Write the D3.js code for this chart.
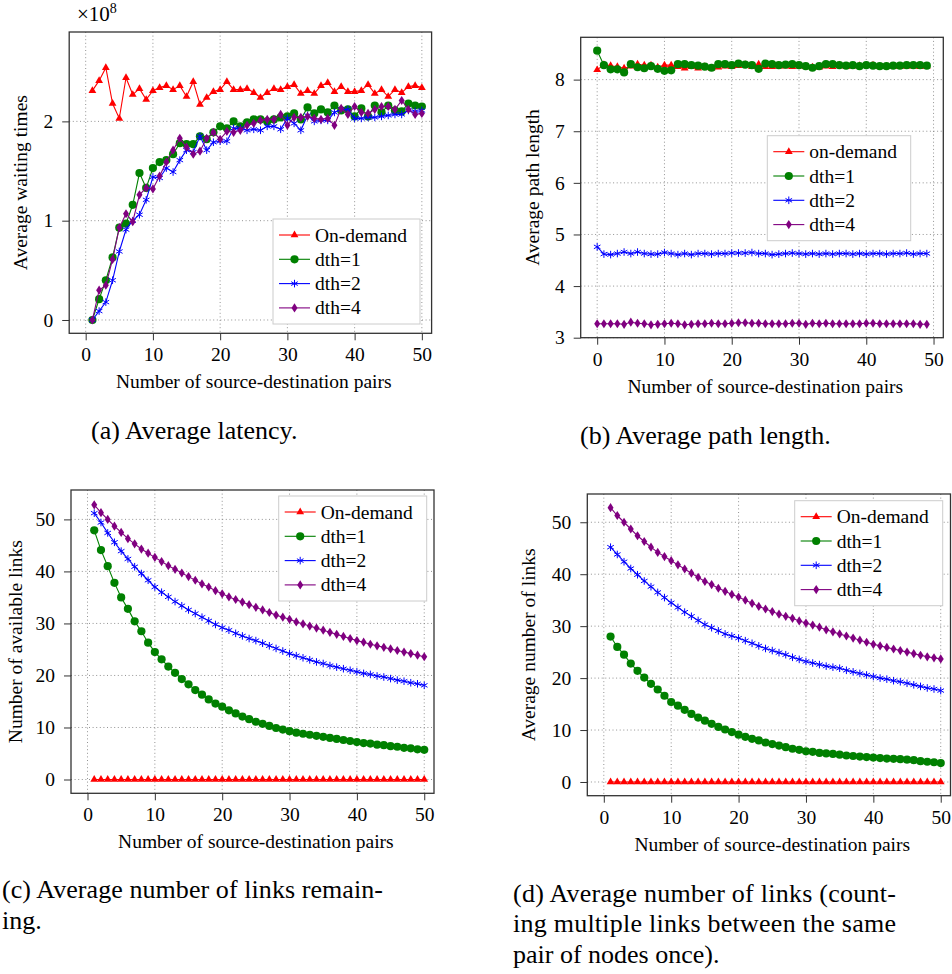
<!DOCTYPE html>
<html>
<head>
<meta charset="utf-8">
<script src="https://cdn.jsdelivr.net/npm/d3@7"></script>
<style>
  body { margin: 0; background: #fff; }
  svg text { font-family: "Liberation Serif", "Times New Roman", serif; fill: #000; }
</style>
</head>
<body>
<svg id="fig" width="952" height="974"></svg>
<script>
// x values
const pairs = d3.range(1, 51);        // 1..50 (panels a, c, d)
const pairsB = d3.range(0, 50);       // 0..49 (panel b)
const xTicks = [0, 10, 20, 30, 40, 50];

// (a) average waiting times, in units of 1e8
const waitOnDemand = [2.31,2.41,2.54,2.18,2.03,2.44,2.27,2.33,2.22,2.31,2.34,2.36,2.32,2.36,2.25,2.40,2.17,2.24,2.30,2.32,2.40,2.32,2.32,2.33,2.29,2.24,2.29,2.33,2.32,2.35,2.37,2.28,2.31,2.28,2.36,2.39,2.30,2.35,2.30,2.30,2.31,2.37,2.28,2.32,2.25,2.32,2.29,2.35,2.36,2.34];
const waitDth1 = [0.00,0.21,0.40,0.63,0.93,0.97,1.16,1.48,1.33,1.53,1.59,1.61,1.67,1.78,1.77,1.77,1.85,1.82,1.89,1.95,1.93,2.00,1.95,1.99,2.02,2.02,2.00,2.02,2.04,2.05,2.08,2.02,2.14,2.08,2.12,2.09,2.16,2.11,2.12,2.05,2.13,2.05,2.16,2.09,2.16,2.11,2.10,2.18,2.16,2.15];
const waitDth2 = [0.00,0.09,0.18,0.40,0.69,0.91,1.00,1.06,1.21,1.44,1.43,1.53,1.49,1.61,1.71,1.69,1.85,1.71,1.79,1.80,1.80,1.93,1.93,1.91,1.92,1.91,1.95,1.95,1.92,2.03,1.98,1.91,2.06,2.00,2.01,2.01,2.09,2.12,2.12,2.03,2.03,2.04,2.04,2.05,2.06,2.07,2.07,2.11,2.10,2.11];
const waitDth4 = [0.00,0.30,0.35,0.61,0.93,1.07,0.99,1.26,1.33,1.32,1.45,1.59,1.71,1.83,1.74,1.67,1.70,1.83,1.89,1.82,1.90,1.89,1.91,1.96,1.98,2.01,2.02,2.02,2.07,1.96,2.04,2.04,2.05,2.03,2.02,2.03,1.96,2.13,2.07,2.15,2.09,2.08,2.12,2.15,2.15,2.12,2.21,2.12,2.07,2.08];

// (b) average path length
const pathOnDemand = [8.19,8.29,8.27,8.25,8.22,8.26,8.30,8.28,8.28,8.24,8.28,8.28,8.25,8.22,8.25,8.22,8.25,8.22,8.24,8.26,8.25,8.27,8.29,8.25,8.30,8.25,8.25,8.26,8.26,8.25,8.26,8.25,8.24,8.24,8.26,8.25,8.28,8.25,8.26,8.27,8.27,8.28,8.25,8.25,8.26,8.25,8.26,8.26,8.25,8.26];
const pathDth1 = [8.56,8.28,8.20,8.20,8.14,8.30,8.24,8.22,8.26,8.21,8.17,8.18,8.30,8.30,8.28,8.27,8.25,8.23,8.30,8.30,8.28,8.31,8.29,8.28,8.21,8.31,8.30,8.28,8.29,8.30,8.28,8.26,8.23,8.26,8.30,8.30,8.28,8.27,8.28,8.26,8.28,8.27,8.26,8.26,8.27,8.27,8.28,8.28,8.28,8.27];
const pathDth2 = [4.76,4.62,4.61,4.63,4.66,4.63,4.66,4.63,4.62,4.62,4.65,4.63,4.61,4.63,4.61,4.63,4.63,4.62,4.63,4.63,4.64,4.64,4.64,4.65,4.63,4.63,4.61,4.62,4.63,4.64,4.63,4.62,4.63,4.62,4.63,4.62,4.63,4.63,4.62,4.63,4.62,4.63,4.63,4.62,4.63,4.63,4.64,4.62,4.63,4.63];
const pathDth4 = [3.27,3.27,3.27,3.27,3.26,3.30,3.28,3.27,3.25,3.26,3.27,3.28,3.27,3.25,3.26,3.27,3.27,3.28,3.27,3.27,3.28,3.29,3.29,3.28,3.28,3.27,3.27,3.27,3.27,3.28,3.28,3.26,3.28,3.27,3.28,3.27,3.27,3.27,3.27,3.27,3.28,3.28,3.27,3.27,3.27,3.27,3.27,3.27,3.26,3.26];

// (c) number of available links
const availOnDemand = [0,0,0,0,0,0,0,0,0,0,0,0,0,0,0,0,0,0,0,0,0,0,0,0,0,0,0,0,0,0,0,0,0,0,0,0,0,0,0,0,0,0,0,0,0,0,0,0,0,0];
const availDth1 = [47.9,44.1,41.0,37.8,35.0,32.8,30.4,28.5,26.3,24.5,23.1,21.7,20.5,19.3,18.3,17.2,16.3,15.4,14.6,14.0,13.3,12.7,12.1,11.6,11.1,10.7,10.3,9.9,9.6,9.3,9.0,8.8,8.6,8.4,8.2,8.0,7.8,7.6,7.4,7.2,7.0,6.9,6.7,6.6,6.4,6.3,6.1,6.0,5.8,5.7];
const availDth2 = [51.2,49.4,47.4,45.6,43.9,42.4,40.9,39.6,38.3,37.0,36.0,35.1,34.2,33.4,32.6,31.9,31.2,30.5,29.8,29.2,28.7,28.1,27.6,27.1,26.7,26.2,25.7,25.2,24.7,24.2,23.8,23.4,23.0,22.6,22.3,21.9,21.6,21.3,21.0,20.7,20.4,20.2,19.9,19.7,19.4,19.1,18.9,18.6,18.4,18.1];
const availDth4 = [52.8,51.3,50.0,48.7,47.5,46.3,45.3,44.3,43.5,42.7,41.9,41.1,40.4,39.7,39.0,38.3,37.6,37.0,36.3,35.7,35.1,34.6,34.1,33.6,33.1,32.6,32.1,31.6,31.2,30.8,30.3,29.9,29.5,29.1,28.7,28.3,27.9,27.5,27.1,26.7,26.4,26.0,25.7,25.4,25.1,24.8,24.5,24.2,23.9,23.6];

// (d) average number of links
const linksOnDemand = [0,0,0,0,0,0,0,0,0,0,0,0,0,0,0,0,0,0,0,0,0,0,0,0,0,0,0,0,0,0,0,0,0,0,0,0,0,0,0,0,0,0,0,0,0,0,0,0,0,0];
const linksDth1 = [28.0,26.0,24.5,22.8,21.4,20.1,18.9,17.8,16.6,15.4,14.7,13.9,13.1,12.4,11.8,11.2,10.6,10.1,9.6,9.1,8.7,8.3,8.0,7.6,7.3,7.0,6.7,6.4,6.2,5.9,5.8,5.6,5.5,5.4,5.25,5.1,5.0,4.9,4.8,4.7,4.6,4.5,4.45,4.4,4.3,4.2,4.0,3.9,3.8,3.65];
const linksDth2 = [45.2,43.8,42.4,41.1,39.9,38.7,37.6,36.5,35.5,34.5,33.6,32.7,31.9,31.1,30.3,29.7,29.1,28.5,28.1,27.7,27.2,26.7,26.2,25.7,25.3,24.9,24.5,24.0,23.6,23.2,22.9,22.6,22.3,22.1,21.9,21.5,21.2,20.9,20.6,20.3,20.0,19.8,19.5,19.3,19.0,18.7,18.4,18.1,17.9,17.6];
const linksDth4 = [52.8,51.3,50.0,48.7,47.4,46.3,45.2,44.2,43.4,42.6,41.8,41.0,40.2,39.4,38.6,38.0,37.3,36.7,36.1,35.6,35.0,34.4,33.8,33.3,32.8,32.3,31.9,31.5,31.0,30.6,30.2,29.8,29.3,28.9,28.5,28.1,27.7,27.3,26.9,26.5,26.2,25.9,25.6,25.3,25.0,24.7,24.4,24.1,23.9,23.7];

const seriesNames = ["On-demand", "dth=1", "dth=2", "dth=4"];
const seriesNamesB = ["on-demand", "dth=1", "dth=2", "dth=4"];
const colors = ["#ff0000", "#008000", "#0000ff", "#800080"];
const markers = ["triangle", "circle", "asterisk", "diamond"];

const svg = d3.select("#fig");
const FS = 19.5;

function drawMarker(sel, type, color) {
  if (type === "circle") {
    sel.append("circle").attr("r", 4.1).attr("fill", color);
  } else if (type === "triangle") {
    sel.append("path").attr("d", "M0,-4.4L3.9,2.3L-3.9,2.3Z").attr("fill", color);
  } else if (type === "diamond") {
    sel.append("path").attr("d", "M0,-4.6L3,0L0,4.6L-3,0Z").attr("fill", color);
  } else {
    sel.append("path")
      .attr("d", "M0,-3.8L0,3.8M-3.3,-1.9L3.3,1.9M-3.3,1.9L3.3,-1.9")
      .attr("stroke", color).attr("stroke-width", 1).attr("fill", "none");
  }
}

function drawPanel(p) {
  const x = d3.scaleLinear().domain([-2.45, 51.45]).range([p.left, p.right]);
  const y = d3.scaleLinear().domain(p.yDomain).range([p.bottom, p.top]);
  const g = svg.append("g");

  // grid
  g.append("g").selectAll("line").data(xTicks).join("line")
    .attr("x1", d => x(d)).attr("x2", d => x(d))
    .attr("y1", p.top).attr("y2", p.bottom)
    .attr("stroke", "#777").attr("stroke-width", 0.8).attr("stroke-dasharray", "1,2.6");
  g.append("g").selectAll("line").data(p.yTicks).join("line")
    .attr("x1", p.left).attr("x2", p.right)
    .attr("y1", d => y(d)).attr("y2", d => y(d))
    .attr("stroke", "#777").attr("stroke-width", 0.8).attr("stroke-dasharray", "1,2.6");

  // axes, ticks outside
  const fmt = d3.format("d");
  const ax = g.append("g").attr("transform", `translate(0,${p.bottom})`)
    .call(d3.axisBottom(x).tickValues(xTicks).tickFormat(fmt).tickSize(7).tickSizeOuter(0).tickPadding(7));
  const ay = g.append("g").attr("transform", `translate(${p.left},0)`)
    .call(d3.axisLeft(y).tickValues(p.yTicks).tickFormat(fmt).tickSize(7).tickSizeOuter(0).tickPadding(9));
  [ax, ay].forEach(a => {
    a.select(".domain").remove();
    a.attr("font-family", null).attr("font-size", FS);
    a.selectAll("line").attr("stroke", "#333");
  });

  // frame
  g.append("rect").attr("x", p.left).attr("y", p.top)
    .attr("width", p.right - p.left).attr("height", p.bottom - p.top)
    .attr("fill", "none").attr("stroke", "#333").attr("stroke-width", 1.3);

  // series
  const line = d3.line().x(d => x(d[0])).y(d => y(d[1]));
  p.series.forEach((vals, k) => {
    const pts = vals.map((v, i) => [p.xs[i], v]);
    g.append("path").datum(pts).attr("d", line)
      .attr("fill", "none").attr("stroke", colors[k]).attr("stroke-width", 1.1);
    g.append("g").selectAll("g").data(pts).join("g")
      .attr("transform", d => `translate(${x(d[0])},${y(d[1])})`)
      .each(function () { drawMarker(d3.select(this), markers[k], colors[k]); });
  });

  // legend
  const lg = g.append("g").attr("transform", `translate(${p.legend[0]},${p.legend[1]})`);
  lg.append("rect").attr("width", p.legend[2]).attr("height", 105)
    .attr("fill", "#fff").attr("stroke", "#ccc").attr("stroke-width", 1);
  p.names.forEach((name, k) => {
    const row = lg.append("g").attr("transform", `translate(0,${16 + k * 24.3})`);
    row.append("line").attr("x1", 6).attr("x2", 37)
      .attr("stroke", colors[k]).attr("stroke-width", 1.1);
    drawMarker(row.append("g").attr("transform", "translate(21.5,0)"), markers[k], colors[k]);
    row.append("text").attr("x", 42).attr("y", 6.5).attr("font-size", FS).text(name);
  });

  // axis titles
  g.append("text").attr("x", (x(0) + x(50)) / 2).attr("y", p.bottom + 55)
    .attr("text-anchor", "middle").attr("font-size", FS)
    .text("Number of source-destination pairs");
  const cy = (p.top + p.bottom) / 2;
  g.append("text")
    .attr("transform", `translate(${p.yTitleX},${cy}) rotate(-90)`)
    .attr("text-anchor", "middle").attr("font-size", FS).text(p.yTitle);

  // caption
  p.caption.forEach((c, i) => {
    const t = g.append("text").attr("x", p.capX).attr("y", p.capY + i * 30.5)
      .attr("font-size", 26).text(c.text);
    if (c.fit) t.attr("textLength", c.fit).attr("lengthAdjust", "spacing");
  });
}

drawPanel({
  left: 69.2, right: 431.6, top: 32, bottom: 333.3,
  yDomain: [-0.134, 2.9], yTicks: [0, 1, 2], xs: pairs,
  series: [waitOnDemand, waitDth1, waitDth2, waitDth4], names: seriesNames,
  legend: [273, 219, 147],
  yTitle: "Average waiting times", yTitleX: 27,
  caption: [{ text: "(a) Average latency." }], capX: 91, capY: 439
});
drawPanel({
  left: 580.7, right: 943.3, top: 37.3, bottom: 337.7,
  yDomain: [3, 8.82], yTicks: [3, 4, 5, 6, 7, 8], xs: pairsB,
  series: [pathOnDemand, pathDth1, pathDth2, pathDth4], names: seriesNamesB,
  legend: [767.3, 135.7, 143.4],
  yTitle: "Average path length", yTitleX: 538.5,
  caption: [{ text: "(b) Average path length." }], capX: 580, capY: 444
});
drawPanel({
  left: 71, right: 434, top: 490, bottom: 793.3,
  yDomain: [-2.65, 55.65], yTicks: [0, 10, 20, 30, 40, 50], xs: pairs,
  series: [availOnDemand, availDth1, availDth2, availDth4], names: seriesNames,
  legend: [278.7, 496, 148],
  yTitle: "Number of available links", yTitleX: 22,
  caption: [{ text: "(c) Average number of links remain-", fit: 381 }, { text: "ing." }],
  capX: 2, capY: 898
});
drawPanel({
  left: 587.3, right: 950.5, top: 494, bottom: 795.7,
  yDomain: [-2.64, 55.44], yTicks: [0, 10, 20, 30, 40, 50], xs: pairs,
  series: [linksOnDemand, linksDth1, linksDth2, linksDth4], names: seriesNames,
  legend: [794.7, 500.7, 148],
  yTitle: "Average number of links", yTitleX: 535,
  caption: [{ text: "(d) Average number of links (count-", fit: 383 },
            { text: "ing multiple links between the same", fit: 383 },
            { text: "pair of nodes once)." }],
  capX: 513, capY: 901.5
});

// multiplier label of panel (a)
const mult = svg.append("text").attr("x", 77).attr("y", 20.5).attr("font-size", 21);
mult.append("tspan").text("×10");
mult.append("tspan").attr("dy", -8).attr("font-size", 14).text("8");
</script>
</body>
</html>
